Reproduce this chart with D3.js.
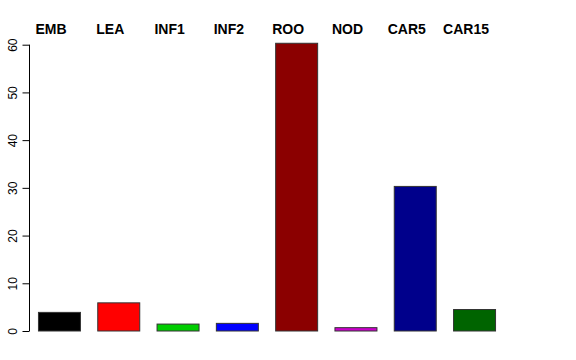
<!DOCTYPE html>
<html>
<head>
<meta charset="utf-8">
<script src="https://cdn.jsdelivr.net/npm/d3@7"></script>
<style>
  body { margin: 0; background: #fff; }
  text { font-family: "Liberation Sans", Arial, sans-serif; }
</style>
</head>
<body>
<div id="chart"></div>
<script>
// bar data
var categories = ['EMB', 'LEA', 'INF1', 'INF2', 'ROO', 'NOD', 'CAR5', 'CAR15'];
var values = [3.9, 5.9, 1.45, 1.6, 60.3, 0.7, 30.3, 4.5];
var colors = ['#000000', '#ff0000', '#00cd00', '#0000ff', '#8b0000', '#cd00cd', '#00008b', '#006400'];
var yTicks = [0, 10, 20, 30, 40, 50, 60];

var width = 576, height = 360;

var svg = d3.select('#chart').append('svg')
    .attr('width', width)
    .attr('height', height);

var x = d3.scaleBand()
    .domain(categories)
    .range([29.3, 503.7])
    .paddingInner(0.292)
    .paddingOuter(0.146);

var y = d3.scaleLinear()
    .domain([0, 60])
    .range([331, 44.7]);

// bars
svg.selectAll('.bar')
    .data(categories)
    .enter().append('rect')
    .attr('class', 'bar')
    .attr('x', function(d) { return x(d) + 0.5; })
    .attr('width', x.bandwidth())
    .attr('y', function(d, i) { return y(values[i]); })
    .attr('height', function(d, i) { return y(0) - y(values[i]); })
    .attr('fill', function(d, i) { return colors[i]; })
    .attr('stroke', '#333')
    .attr('stroke-width', 1);

// labels on top (shifted left of bar centres, like the original)
svg.selectAll('.lab')
    .data(categories)
    .enter().append('text')
    .attr('class', 'lab')
    .attr('x', function(d) { return x(d) + x.bandwidth() / 2 - 8; })
    .attr('y', 34)
    .attr('text-anchor', 'middle')
    .attr('font-size', 14)
    .attr('font-weight', 'bold')
    .text(function(d) { return d; });

// y axis
var yAxis = d3.axisLeft(y)
    .tickValues(yTicks)
    .tickSize(7)
    .tickPadding(0)
    .tickFormat(d3.format('d'));

var g = svg.append('g')
    .attr('transform', 'translate(29.5,0)')
    .call(yAxis);

g.select('.domain').attr('stroke', '#000').attr('d', 'M0,' + y(0) + 'V' + y(60));
g.selectAll('.tick line').attr('stroke', '#000');
g.selectAll('.tick text')
    .attr('font-size', 12)
    .attr('fill', '#000')
    .attr('x', 0)
    .attr('y', 0)
    .attr('dy', '0.35em')
    .attr('text-anchor', 'middle')
    .attr('transform', 'translate(-17,0) rotate(-90)');
</script>
</body>
</html>
